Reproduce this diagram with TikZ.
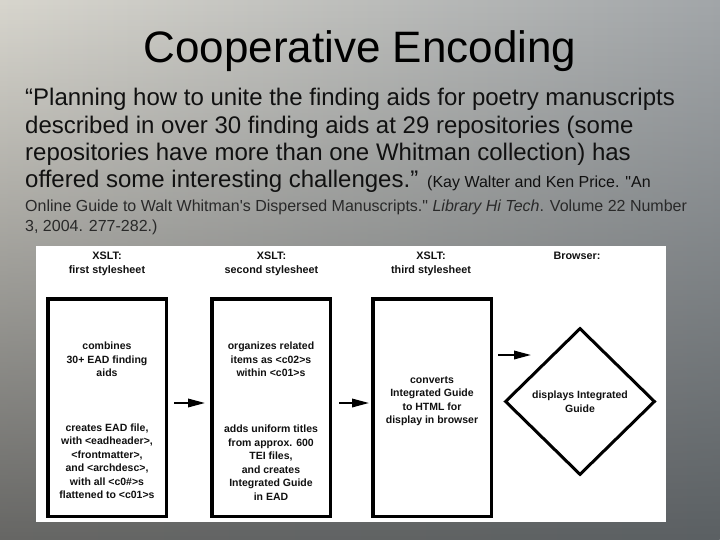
\documentclass[tikz,border=0pt]{standalone}
\usepackage{fontspec}
\setmainfont{Liberation Sans}
\newfontfamily\citefont[Ligatures=TeXOff]{Liberation Sans}
\usetikzlibrary{arrows.meta,shapes.geometric,fadings}
\definecolor{bgTL}{HTML}{D8D6CE}
\definecolor{bgTR}{HTML}{A2A6A9}
\definecolor{bgBL}{HTML}{666664}
\definecolor{bgBR}{HTML}{5B6063}
\definecolor{ink}{HTML}{111111}
\tikzfading[name=fadebottom, top color=transparent!100, bottom color=transparent!0]
\tikzset{
  box/.style={draw=black, line width=3.5pt, minimum width=118.5pt, minimum height=217.5pt, inner sep=0pt, fill=white},
  boxtxt/.style={font=\bfseries\fontsize{10.5}{13.5}\selectfont, align=center, inner sep=0pt, text=ink},
  lbl/.style={font=\bfseries\fontsize{10.8}{13.5}\selectfont, align=center, inner sep=0pt, text=ink},
  arr/.style={line width=1.8pt, -{Triangle[length=17pt,width=8.5pt]}},
  quote/.style={anchor=base west, inner sep=0pt, font=\fontsize{24}{27}\selectfont, text=ink},
  cite/.style={anchor=base west, inner sep=0pt, font=\citefont\fontsize{16}{20}\selectfont, text=ink!90}
}
\begin{document}
\begin{tikzpicture}[x=1pt,y=-1pt]
\useasboundingbox (0,0) rectangle (720,540);
% background
\shade[left color=bgTL, right color=bgTR] (0,0) rectangle (720,540);
\shade[left color=bgBL, right color=bgBR, path fading=fadebottom] (0,0) rectangle (720,540);
% title
\node[anchor=base, inner sep=0pt, font=\fontsize{44}{50}\selectfont, text=black] (title) at (360,63) {Cooperative Encoding};
% quote
\node[quote] (q1) at (25,106) {“Planning how to unite the finding aids for poetry manuscripts};
\node[quote] (q2) at (25,133.5) {described in over 30 finding aids at 29 repositories (some};
\node[quote] (q3) at (25,161) {repositories have more than one Whitman collection) has};
\node[quote] (q4) at (25,188) {offered some interesting challenges.” {\citefont\fontsize{16}{20}\selectfont (Kay Walter and Ken Price. "An}};
\node[cite] (c2) at (25,211.5) {Online Guide to Walt Whitman's Dispersed Manuscripts." \textit{Library Hi Tech}. Volume 22 Number};
\node[cite] (c3) at (25,232) {3, 2004. 277-282.)};
% white panel
\fill[white] (36,246) rectangle (666,522);
% labels
\node[lbl] (l1) at (107,264) {XSLT:\\first stylesheet};
\node[lbl] (l2) at (271.5,264) {XSLT:\\second stylesheet};
\node[lbl] (l3) at (431,264) {XSLT:\\third stylesheet};
\node[lbl] (l4) at (577,256) {Browser:};
% boxes
\node[box] (b1) at (107,407.5) {};
\node[box] (b2) at (271,407.5) {};
\node[box] (b3) at (432,407.5) {};
\node[diamond, draw=black, line width=3pt, minimum width=150pt, minimum height=147pt, inner sep=0pt, fill=white, align=center, font=\bfseries\fontsize{10.5}{13.5}\selectfont, text=ink] (d) at (580,401.5) {displays Integrated\\Guide};
% box texts
\node[boxtxt] (t1a) at (107,359.5) {combines\\30+ EAD finding\\aids};
\node[boxtxt] (t1b) at (107,461) {creates EAD file,\\with <eadheader>,\\<frontmatter>,\\and <archdesc>,\\with all <c0\#>s\\flattened to <c01>s};
\node[boxtxt] (t2a) at (271,359.5) {organizes related\\items as <c02>s\\within <c01>s};
\node[boxtxt] (t2b) at (271,462.5) {adds uniform titles\\from approx. 600\\TEI files,\\and creates\\Integrated Guide\\in EAD};
\node[boxtxt] (t3) at (432,401) {converts\\Integrated Guide\\to HTML for\\display in browser};
% arrows
\draw[arr, shorten <=6pt, shorten >=5pt] ([yshift=4.5pt]b1.east) -- ([yshift=4.5pt]b2.west);
\draw[arr, shorten <=7pt, shorten >=2pt] ([yshift=4.5pt]b2.east) -- ([yshift=4.5pt]b3.west);
\coordinate (a3end) at (531,355);
\draw[arr, shorten <=5pt] (b3.east |- a3end) -- (a3end);
\end{tikzpicture}
\end{document}
